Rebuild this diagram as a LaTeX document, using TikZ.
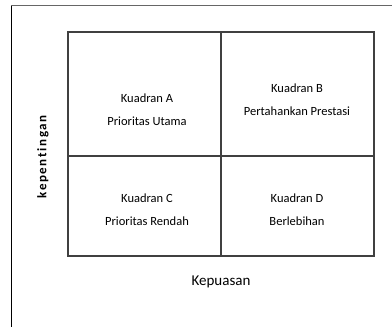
\documentclass[tikz,border=0pt]{standalone}
\usepackage{fontspec}
\setmainfont{Carlito}
\begin{document}
\begin{tikzpicture}[x=1pt,y=1pt,
    gridline/.style={draw=black!75,line width=1.2pt},
    quadtext/.style={align=center,font=\fontsize{12.5}{23}\selectfont}]
            \useasboundingbox (0,0) rectangle (392,327);
            % frame
            \draw[black!60,line width=1pt] (11,321) -- (392,321);
            \draw[black,line width=0.9pt] (11,321) -- (11,0);
            % quadrants
            \draw[gridline] (68,295) rectangle (374,71);
            \draw[gridline] (221,295) -- (221,71);
            \draw[gridline] (68,171) -- (374,171);
            \node[quadtext] (qa) at (147,217) {Kuadran A\\Prioritas Utama};
            \node[quadtext] (qb) at (297,227) {Kuadran B\\Pertahankan Prestasi};
            \node[quadtext] (qc) at (147,117) {Kuadran C\\Prioritas Rendah};
            \node[quadtext] (qd) at (297,117) {Kuadran D\\Berlebihan};
            \node[font=\fontsize{15}{17}\selectfont] (kp) at (221,45) {Kepuasan};
            \node[rotate=90,font=\fontsize{13}{14}\selectfont\bfseries,
                  inner sep=0pt] (kt) at (43,170)
                  {k\hspace{1.6pt}e\hspace{1.6pt}p\hspace{1.6pt}e\hspace{1.6pt}n\hspace{1.6pt}t\hspace{1.6pt}i\hspace{1.6pt}n\hspace{1.6pt}g\hspace{1.6pt}a\hspace{1.6pt}n};
        \end{tikzpicture}
\end{document}
